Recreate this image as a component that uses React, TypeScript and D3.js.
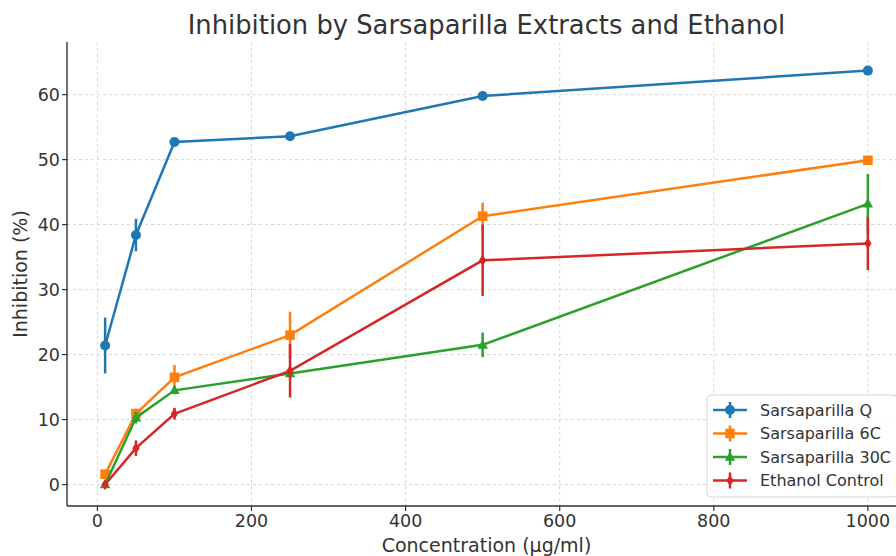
import React from "react";
import * as d3 from "d3";

// Concentrations tested (µg/ml)
const concentrations = [10, 50, 100, 250, 500, 1000];

// Mean inhibition (%) and error (±) for each treatment
const qMean = [21.4, 38.4, 52.7, 53.6, 59.8, 63.7];
const qErr = [4.3, 2.5, 0.6, 0.6, 0.5, 0.6];
const sixCMean = [1.6, 10.9, 16.5, 23.0, 41.3, 49.9];
const sixCErr = [0.5, 0.8, 1.9, 3.6, 2.1, 0.6];
const thirtyCMean = [0.0, 10.3, 14.5, 17.1, 21.5, 43.2];
const thirtyCErr = [0.4, 0.9, 0.6, 0.7, 1.9, 4.6];
const ethanolMean = [0.0, 5.6, 10.9, 17.5, 34.5, 37.1];
const ethanolErr = [0.5, 1.2, 0.9, 4.1, 5.5, 4.1];

const seriesNames = ["Sarsaparilla Q", "Sarsaparilla 6C", "Sarsaparilla 30C", "Ethanol Control"];
const xTicks = [0, 200, 400, 600, 800, 1000];
const yTicks = [0, 10, 20, 30, 40, 50, 60];

const W = 896;
const H = 556;
const FONT = "DejaVu Sans, sans-serif";

type Shape = "circle" | "square" | "triangle" | "diamond";

const series = [
  { name: seriesNames[0], mean: qMean, err: qErr, color: "#1f77b4", shape: "circle" as Shape },
  { name: seriesNames[1], mean: sixCMean, err: sixCErr, color: "#ff7f0e", shape: "square" as Shape },
  { name: seriesNames[2], mean: thirtyCMean, err: thirtyCErr, color: "#2ca02c", shape: "triangle" as Shape },
  { name: seriesNames[3], mean: ethanolMean, err: ethanolErr, color: "#d62728", shape: "diamond" as Shape },
];

function Marker({ x, y, shape, color }: { x: number; y: number; shape: Shape; color: string }) {
  if (shape === "circle") return <circle cx={x} cy={y} r={5} fill={color} />;
  if (shape === "square") return <rect x={x - 4.8} y={y - 4.8} width={9.6} height={9.6} fill={color} />;
  if (shape === "triangle")
    return <path d={`M${x},${y - 5.6} L${x + 5.2},${y + 3.8} L${x - 5.2},${y + 3.8} Z`} fill={color} />;
  return <path d={`M${x},${y - 5.6} L${x + 3.7},${y} L${x},${y + 5.6} L${x - 3.7},${y} Z`} fill={color} />;
}

export default function App() {
  const left = 67;
  const right = 906;
  const top = 42;
  const bottom = 506;

  const x = d3.scaleLinear().domain([-39.5, 1049.5]).range([left, right]);
  const y = d3.scaleLinear().domain([-3.3, 68.1]).range([bottom, top]);

  const line = d3
    .line<[number, number]>()
    .x((d) => x(d[0]))
    .y((d) => y(d[1]));

  const legend = { x0: 707, y0: 395, w: 190, h: 102 };

  return (
    <div style={{ position: "absolute", left: 0, top: 0 }}>
      <svg width={W} height={H} style={{ display: "block", fontFamily: FONT }}>
        <rect width={W} height={H} fill="#fff" />
        <defs>
          <clipPath id="plotArea">
            <rect x={left} y={top} width={right - left} height={bottom - top} />
          </clipPath>
        </defs>

        {/* grid */}
        <g stroke="#d6d6d6" strokeWidth={1} strokeDasharray="3,3">
          {xTicks.map((t) => (
            <line key={"gx" + t} x1={x(t)} x2={x(t)} y1={top} y2={bottom} />
          ))}
          {yTicks.map((t) => (
            <line key={"gy" + t} x1={left} x2={right} y1={y(t)} y2={y(t)} />
          ))}
        </g>

        {/* series */}
        <g clipPath="url(#plotArea)">
          {series.map((s) => {
            const pts = concentrations.map((c, i) => [c, s.mean[i]] as [number, number]);
            return (
              <g key={s.name}>
                <path d={line(pts) || ""} fill="none" stroke={s.color} strokeWidth={2.5} />
                {concentrations.map((c, i) => (
                  <line
                    key={"e" + i}
                    x1={x(c)}
                    x2={x(c)}
                    y1={y(s.mean[i] - s.err[i])}
                    y2={y(s.mean[i] + s.err[i])}
                    stroke={s.color}
                    strokeWidth={2.5}
                  />
                ))}
                {concentrations.map((c, i) => (
                  <Marker key={"m" + i} x={x(c)} y={y(s.mean[i])} shape={s.shape} color={s.color} />
                ))}
              </g>
            );
          })}
        </g>

        {/* axes spines */}
        <line x1={left} x2={left} y1={top} y2={bottom} stroke="#333" strokeWidth={1.4} />
        <line x1={left} x2={right} y1={bottom} y2={bottom} stroke="#333" strokeWidth={1.4} />

        {/* x ticks */}
        {xTicks.map((t) => (
          <g key={"xt" + t}>
            <line x1={x(t)} x2={x(t)} y1={bottom} y2={bottom + 5} stroke="#333" strokeWidth={1.2} />
            <text x={x(t)} y={527} textAnchor="middle" fontSize={17.5} fill="#333">
              {t}
            </text>
          </g>
        ))}

        {/* y ticks */}
        {yTicks.map((t) => (
          <g key={"yt" + t}>
            <line x1={left - 5} x2={left} y1={y(t)} y2={y(t)} stroke="#333" strokeWidth={1.2} />
            <text x={left - 7} y={y(t)} dy="0.36em" textAnchor="end" fontSize={17.5} fill="#333">
              {t}
            </text>
          </g>
        ))}

        {/* axis labels */}
        <text x={(left + right) / 2} y={552} textAnchor="middle" fontSize={19} fill="#333">
          Concentration (µg/ml)
        </text>
        <text
          transform={`translate(27, ${(top + bottom) / 2}) rotate(-90)`}
          textAnchor="middle"
          fontSize={19}
          fill="#333"
        >
          Inhibition (%)
        </text>

        {/* title */}
        <text x={(left + right) / 2} y={34} textAnchor="middle" fontSize={25.8} fill="#333">
          Inhibition by Sarsaparilla Extracts and Ethanol
        </text>

        {/* legend */}
        <g>
          <rect
            x={legend.x0}
            y={legend.y0}
            width={legend.w}
            height={legend.h}
            rx={4}
            fill="#fff"
            fillOpacity={0.85}
            stroke="#d5d5d5"
          />
          {series.map((s, i) => {
            const ry = 410 + i * 23.5;
            return (
              <g key={"lg" + s.name}>
                <line x1={713} x2={747} y1={ry} y2={ry} stroke={s.color} strokeWidth={2.5} />
                <line x1={730} x2={730} y1={ry - 8} y2={ry + 8} stroke={s.color} strokeWidth={2.5} />
                <Marker x={730} y={ry} shape={s.shape} color={s.color} />
                <text x={760} y={ry} dy="0.36em" fontSize={16} fill="#333">
                  {s.name}
                </text>
              </g>
            );
          })}
        </g>
      </svg>
    </div>
  );
}
